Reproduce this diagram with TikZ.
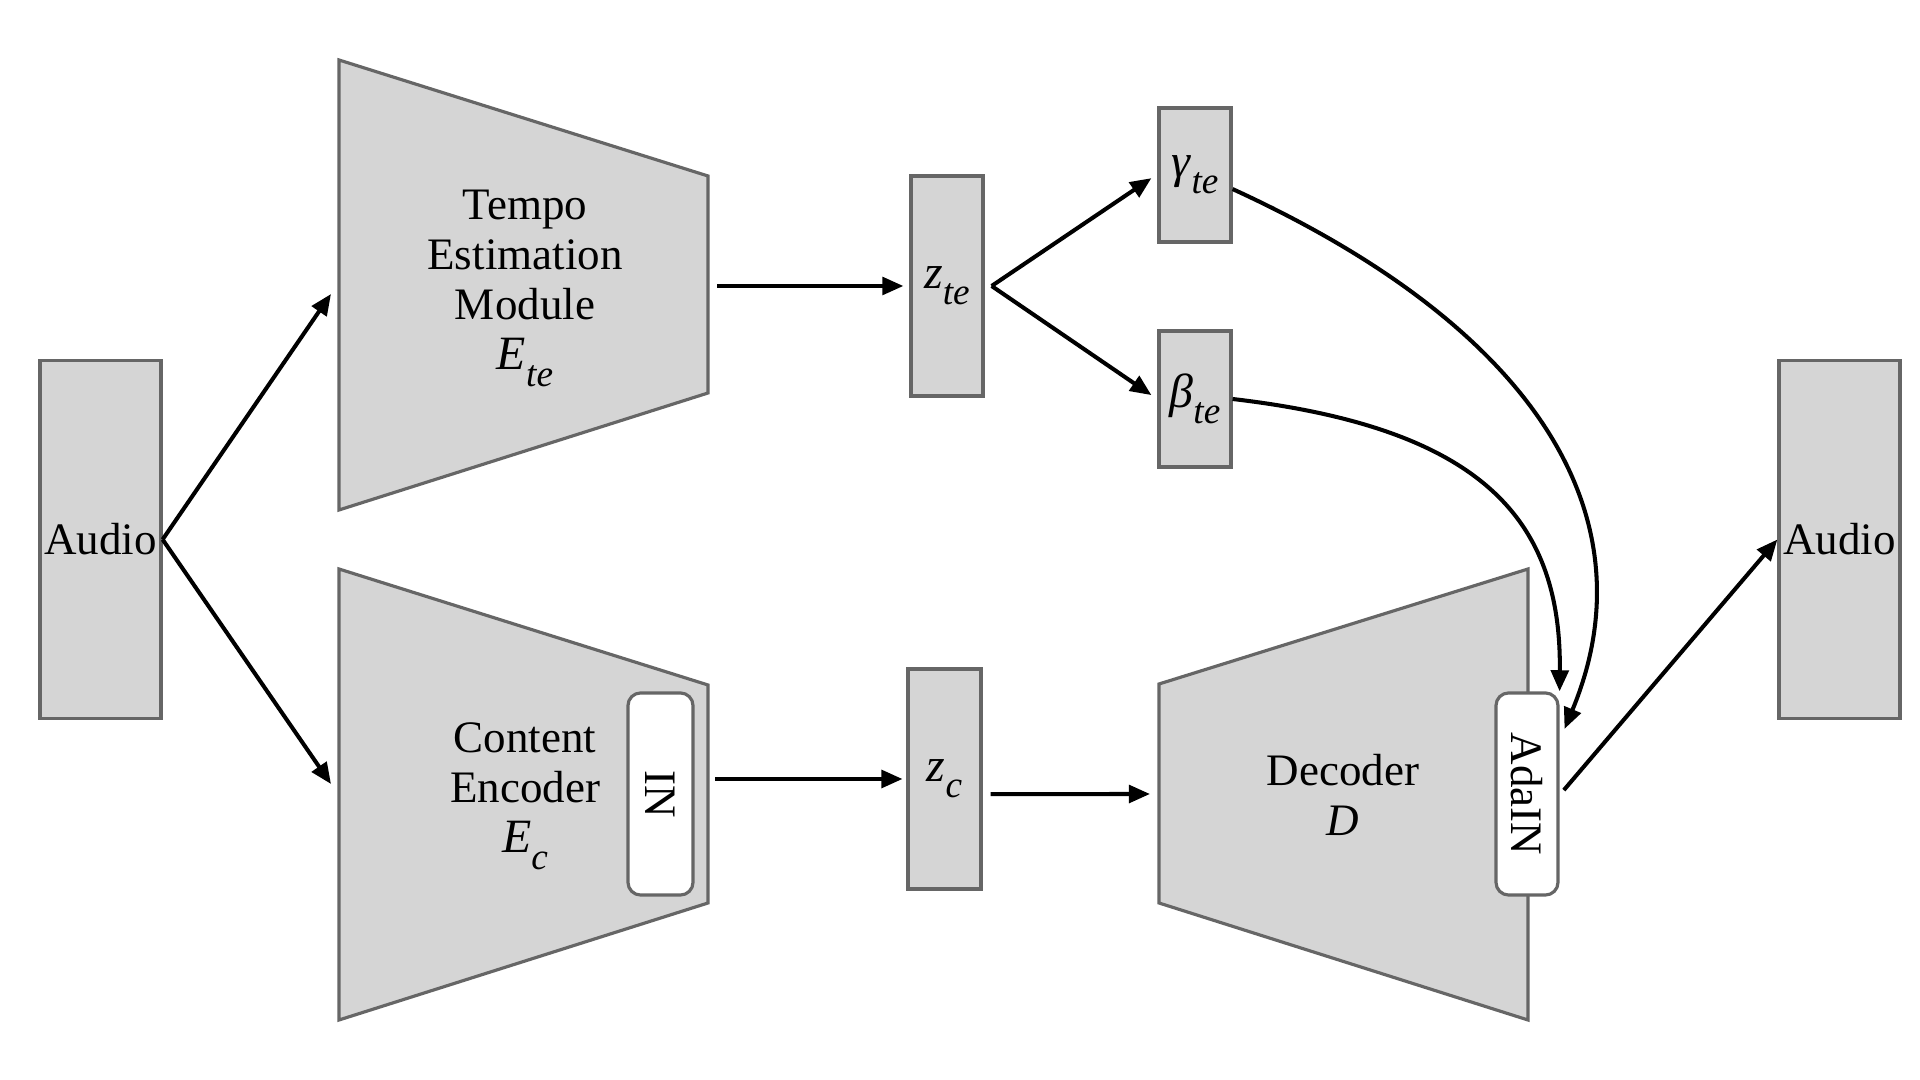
\documentclass[tikz,border=0pt]{standalone}
\usepackage{fontspec}
\usepackage{graphicx}
\setmainfont{Liberation Serif}
\usetikzlibrary{positioning,arrows.meta}
\definecolor{BlockGray}{HTML}{D5D5D5}
\definecolor{EdgeGray}{HTML}{666666}
\newcommand{\symsub}[2]{{\fontsize{13.6}{14.3}\selectfont\textit{#1}}\raisebox{-0.36em}{\fontsize{10.6}{10.6}\selectfont\textit{#2}}}

\begin{document}
\begin{tikzpicture}[
  x=0.01cm, y=-0.01cm,
  font=\fontsize{12.8}{14.3}\selectfont,
  box/.style={draw=EdgeGray, line width=0.9pt, fill=BlockGray, inner sep=0pt, minimum width=0.72cm},
  norm/.style={draw=EdgeGray, line width=0.9pt, fill=white, rounded corners=3.6pt, inner sep=0pt, minimum width=0.64cm, minimum height=2.02cm},
  trap/.style={draw=EdgeGray, line width=0.9pt, fill=BlockGray},
  lbl/.style={align=center, inner sep=0pt},
  arrow/.style={-{Triangle[length=6pt, width=5pt]}, line width=1.15pt, black}
]
\useasboundingbox (0,0) rectangle (1920,1080);

\filldraw[trap] (339,60) -- (708,176) -- (708,393) -- (339,510) -- cycle;
\filldraw[trap] (339,569) -- (708,685) -- (708,903) -- (339,1020) -- cycle;
\filldraw[trap] (1159,684) -- (1528,569) -- (1528,1020) -- (1159,903) -- cycle;

\coordinate (tem-in) at (331,294);
\coordinate (tem-out) at (717,286);
\coordinate (con-in) at (331,784);
\coordinate (con-out) at (715,779);
\coordinate (dec-in) at (1150,794);

\node[box, minimum width=1.21cm, minimum height=3.57cm] (audioin) at (100.5,539.5) {Audio};
\node[lbl] (tem) at (525,288) {Tempo\\Estimation\\Module\\\symsub{E}{te}};
\node[lbl] (con) at (525,796) {Content\\Encoder\\\symsub{E}{c}};
\node[norm, minimum width=0.65cm] (innorm) at (660.5,794) {\rotatebox{-90}{IN}};
\node[box, minimum height=2.2cm] (zte) at (947,286) {\symsub{z}{te}};
\node[box, minimum height=1.34cm] (gamma) at (1195,175) {\symsub{γ}{te}};
\node[box, minimum height=1.36cm] (beta) at (1195,399) {\symsub{β}{te}};
\node[box, minimum width=0.73cm, minimum height=2.2cm] (zc) at (944.5,779) {\symsub{z}{c}};
\node[lbl] (dec) at (1343,795) {Decoder\\\textit{D}};
\node[norm, minimum width=0.62cm] (adain) at (1527,794) {\rotatebox{-90}{AdaIN}};
\node[box, minimum width=1.21cm, minimum height=3.57cm] (audioout) at (1839.5,539.5) {Audio};

\draw[arrow] (audioin.east) -- (tem-in);
\draw[arrow] (audioin.east) -- (con-in);
\draw[arrow] (tem-out) -- ([xshift=-1.7pt]zte.west);
\draw[arrow] ([xshift=2pt]zte.east) -- ([xshift=-1.7pt, yshift=-0.9pt]gamma.west);
\draw[arrow] ([xshift=2pt]zte.east) -- ([xshift=-1.7pt, yshift=1.1pt]beta.west);
\draw[arrow] ([yshift=-4pt]gamma.east) .. controls +(308,141) and +(87,-209) .. ([xshift=1.4pt, yshift=18.5pt]adain.east);
\draw[arrow] (beta.east) .. controls +(248,29) and +(2,-173) .. (adain.north east);
\draw[arrow] (con-out) -- ([xshift=-1.1pt]zc.west);
\draw[arrow] ([xshift=2.3pt, yshift=-4.3pt]zc.east) -- (dec-in);
\draw[arrow] ([xshift=1.2pt, yshift=1.1pt]adain.east) -- (audioout.west);
\end{tikzpicture}
\end{document}
